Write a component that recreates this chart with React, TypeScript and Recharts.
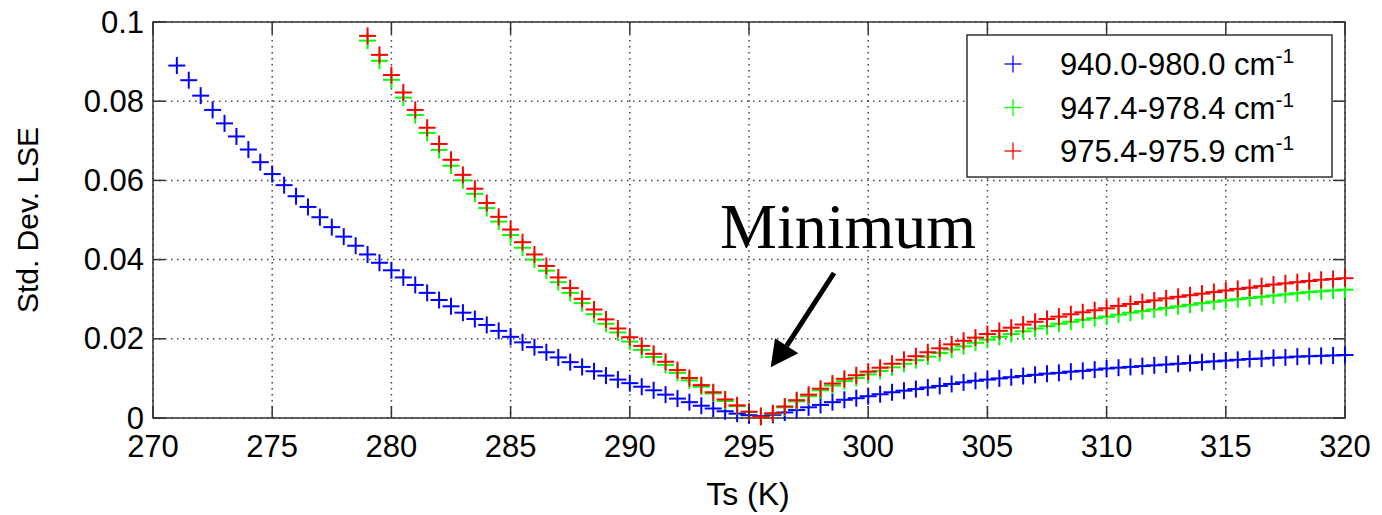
import React from 'react'
import { CartesianGrid, ReferenceArea, Scatter, ScatterChart, XAxis, YAxis } from 'recharts'

// Ts (K), 0.5 K steps
const TEMPS = [
  271, 271.5, 272, 272.5, 273, 273.5, 274, 274.5, 275, 275.5,
  276, 276.5, 277, 277.5, 278, 278.5, 279, 279.5, 280, 280.5,
  281, 281.5, 282, 282.5, 283, 283.5, 284, 284.5, 285, 285.5,
  286, 286.5, 287, 287.5, 288, 288.5, 289, 289.5, 290, 290.5,
  291, 291.5, 292, 292.5, 293, 293.5, 294, 294.5, 295, 295.5,
  296, 296.5, 297, 297.5, 298, 298.5, 299, 299.5, 300, 300.5,
  301, 301.5, 302, 302.5, 303, 303.5, 304, 304.5, 305, 305.5,
  306, 306.5, 307, 307.5, 308, 308.5, 309, 309.5, 310, 310.5,
  311, 311.5, 312, 312.5, 313, 313.5, 314, 314.5, 315, 315.5,
  316, 316.5, 317, 317.5, 318, 318.5, 319, 319.5, 320,
]

// 940.0-980.0 cm-1, starts at 271 K
const BAND_WIDE = [
  0.089, 0.0853, 0.0814, 0.0778, 0.0744, 0.0711, 0.0678, 0.0646, 0.0616, 0.0588,
  0.056, 0.0533, 0.0507, 0.0482, 0.0458, 0.0435, 0.0413, 0.0392, 0.0373, 0.0355,
  0.0336, 0.0316, 0.0298, 0.0282, 0.0266, 0.025, 0.0235, 0.022, 0.0205, 0.0191,
  0.0179, 0.0166, 0.0153, 0.0141, 0.0129, 0.0118, 0.0107, 0.0097, 0.0088, 0.0079,
  0.007, 0.0059, 0.0049, 0.004, 0.0031, 0.0024, 0.0017, 0.0011, 0.0007, 0.0005,
  0.0008, 0.0014, 0.002, 0.0027, 0.0033, 0.004, 0.0046, 0.005, 0.0055, 0.006,
  0.0065, 0.0069, 0.0073, 0.0077, 0.0081, 0.0086, 0.009, 0.0094, 0.0097, 0.01,
  0.0103, 0.0106, 0.0109, 0.0112, 0.0114, 0.0117, 0.0119, 0.0122, 0.0125, 0.0127,
  0.0129, 0.0131, 0.0133, 0.0135, 0.0137, 0.0139, 0.0141, 0.0143, 0.0145, 0.0147,
  0.0149, 0.015, 0.0152, 0.0153, 0.0155, 0.0156, 0.0157, 0.0158, 0.0159,
]

// 947.4-978.4 cm-1, starts at 279 K
const BAND_MID = [
  0.0953, 0.0902, 0.0854, 0.0809, 0.0765, 0.072, 0.0677, 0.0637, 0.06, 0.0566,
  0.053, 0.0496, 0.0462, 0.043, 0.04, 0.0372, 0.0343, 0.0316, 0.029, 0.0262,
  0.0238, 0.0216, 0.0193, 0.0172, 0.0154, 0.0134, 0.0114, 0.0095, 0.0079, 0.0062,
  0.0043, 0.003, 0.0015, 0.0003, 0.0011, 0.0027, 0.0042, 0.0055, 0.007, 0.0082,
  0.0093, 0.0101, 0.011, 0.0119, 0.0128, 0.0137, 0.0146, 0.0155, 0.0164, 0.0173,
  0.0181, 0.019, 0.0198, 0.0205, 0.0212, 0.0219, 0.0226, 0.0232, 0.0238, 0.0243,
  0.0248, 0.0252, 0.0256, 0.0261, 0.0266, 0.027, 0.0274, 0.0278, 0.0282, 0.0286,
  0.029, 0.0294, 0.0297, 0.03, 0.0303, 0.0306, 0.0309, 0.0312, 0.0315, 0.0318,
  0.032, 0.0322, 0.0324,
]

// 975.4-975.9 cm-1, starts at 279 K
const BAND_NARROW = [
  0.0965, 0.0917, 0.0866, 0.0822, 0.0778, 0.0733, 0.0692, 0.0652, 0.0614, 0.0579,
  0.0543, 0.0508, 0.0476, 0.0444, 0.0413, 0.0384, 0.0355, 0.0328, 0.0301, 0.0274,
  0.0249, 0.0226, 0.0204, 0.0182, 0.0162, 0.0142, 0.0121, 0.0101, 0.0083, 0.0065,
  0.0047, 0.0032, 0.0016, 0.0003, 0.0012, 0.0029, 0.0045, 0.0059, 0.0074, 0.0087,
  0.0099, 0.0108, 0.0117, 0.0127, 0.0137, 0.0147, 0.0156, 0.0166, 0.0176, 0.0186,
  0.0195, 0.0203, 0.0212, 0.022, 0.0228, 0.0236, 0.0243, 0.025, 0.0256, 0.0262,
  0.0267, 0.0272, 0.0277, 0.0283, 0.0288, 0.0293, 0.0297, 0.0302, 0.0306, 0.031,
  0.0314, 0.0318, 0.0322, 0.0326, 0.0329, 0.0333, 0.0337, 0.034, 0.0343, 0.0346,
  0.0349, 0.0351, 0.0353,
]

const X_TICKS = [270, 275, 280, 285, 290, 295, 300, 305, 310, 315, 320]
const Y_TICKS = [0, 0.02, 0.04, 0.06, 0.08, 0.1]
const Y_TICK_LABELS = ['0', '0.02', '0.04', '0.06', '0.08', '0.1']

const SERIES = [
  { name: '940.0-980.0 cm', color: '#0000ff', temps: TEMPS, values: BAND_WIDE },
  { name: '947.4-978.4 cm', color: '#00ff00', temps: TEMPS.slice(16), values: BAND_MID },
  { name: '975.4-975.9 cm', color: '#ff0000', temps: TEMPS.slice(16), values: BAND_NARROW },
]

const W = 1382
const H = 515
const LEFT = 153
const RIGHT = 1345
const TOP = 22
const BOTTOM = 418
const FONT = '"Liberation Sans", Arial, sans-serif'

const plus = (color: string, arm = 8.5, width = 2) => (p: any) => (
  <g>
    <line x1={p.cx - arm} x2={p.cx + arm} y1={p.cy} y2={p.cy} stroke={color} strokeWidth={width} />
    <line x1={p.cx} x2={p.cx} y1={p.cy - arm} y2={p.cy + arm} stroke={color} strokeWidth={width} />
  </g>
)

function XTick(props: any) {
  const { x, payload } = props
  return (
    <g>
      <line x1={x} x2={x} y1={BOTTOM} y2={BOTTOM - 12} stroke="#333" strokeWidth={1.5} />
      <line x1={x} x2={x} y1={TOP} y2={TOP + 12} stroke="#333" strokeWidth={1.5} />
      <text x={x} y={BOTTOM + 39} textAnchor="middle" fontSize={31} fontFamily={FONT} fill="#000">
        {payload.value}
      </text>
    </g>
  )
}

function YTick(props: any) {
  const { y, payload, index } = props
  return (
    <g>
      <line x1={LEFT} x2={LEFT + 12} y1={y} y2={y} stroke="#333" strokeWidth={1.5} />
      <line x1={RIGHT} x2={RIGHT - 12} y1={y} y2={y} stroke="#333" strokeWidth={1.5} />
      <text x={LEFT - 9} y={y} textAnchor="end" dominantBaseline="central" fontSize={31} fontFamily={FONT} fill="#000">
        {Y_TICK_LABELS[index] ?? String(payload.value)}
      </text>
    </g>
  )
}

export default function App() {
  const data = SERIES.map((s) => s.temps.map((t, i) => ({ t, v: s.values[i] })))

  return (
    <div style={{ position: 'absolute', left: 0, top: 0, width: W, height: H, background: '#fff' }}>
      <ScatterChart width={W} height={H} margin={{ top: TOP, right: W - RIGHT, bottom: 37, left: LEFT - 60 }}>
        <CartesianGrid stroke="#444" strokeWidth={1.5} strokeDasharray="1.5 4.5" />
        <XAxis
          type="number"
          dataKey="t"
          domain={[270, 320]}
          ticks={X_TICKS}
          interval={0}
          height={60}
          axisLine={false}
          tickLine={false}
          tick={<XTick />}
        />
        <YAxis
          type="number"
          dataKey="v"
          domain={[0, 0.1]}
          ticks={Y_TICKS}
          interval={0}
          width={60}
          axisLine={false}
          tickLine={false}
          tick={<YTick />}
        />
        <ReferenceArea x1={270} x2={320} y1={0} y2={0.1} fill="none" fillOpacity={0} stroke="#333" strokeWidth={1.5} ifOverflow="visible" />
        {SERIES.map((s, i) => (
          <Scatter key={s.name} name={s.name} data={data[i]} shape={plus(s.color)} isAnimationActive={false} />
        ))}
      </ScatterChart>

      <svg width={W} height={H} style={{ position: 'absolute', left: 0, top: 0, pointerEvents: 'none' }}>
        {/* legend */}
        <rect x={967} y={35} width={365} height={142} fill="#fff" stroke="#333" strokeWidth={1.5} />
        {SERIES.map((s, i) => (
          <g key={s.name}>
            {plus(s.color, 8.5, 1.3)({ cx: 1013, cy: 64 + i * 43.5 })}
            <text x={1060} y={75 + i * 43.5} fontSize={31} fontFamily={FONT} fill="#000">
              {s.name}
              <tspan dy={-12} fontSize={21}>-1</tspan>
            </text>
          </g>
        ))}

        {/* axis titles */}
        <text x={748} y={505} textAnchor="middle" fontSize={32} fontFamily={FONT} fill="#000">
          Ts (K)
        </text>
        <text
          x={38}
          y={220}
          transform="rotate(-90 38 220)"
          textAnchor="middle"
          fontSize={30}
          fontFamily={FONT}
          fill="#000"
        >
          Std. Dev. LSE
        </text>

        {/* annotation */}
        <text x={720} y={248} fontSize={64} fontFamily='"Liberation Serif", "Times New Roman", serif' fill="#000">
          Minimum
        </text>
        <line x1={834} y1={273} x2={786.7} y2={345.8} stroke="#000" strokeWidth={5} />
        <polygon points="770.7,367.3 775,338.3 798.3,353.3" fill="#000" />
      </svg>
    </div>
  )
}
